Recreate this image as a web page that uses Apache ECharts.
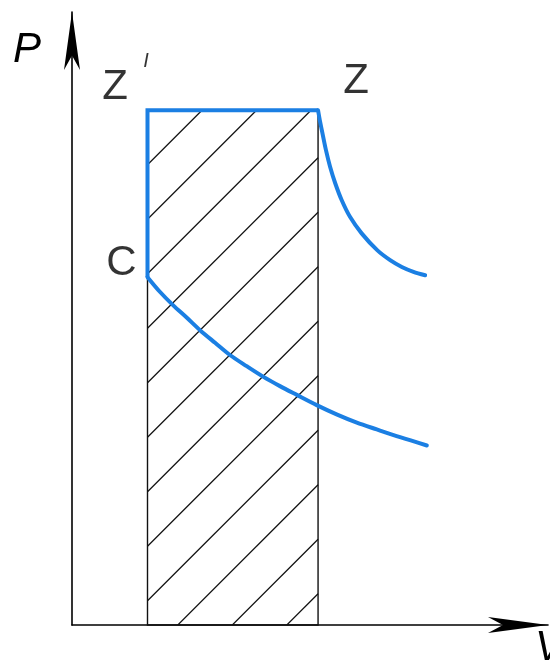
<!DOCTYPE html>
<html>
<head>
<meta charset="utf-8">
<script src="https://cdn.jsdelivr.net/npm/echarts@6/dist/echarts.min.js"></script>
<style>
  html, body { margin: 0; padding: 0; background: #ffffff; }
  #chart { width: 550px; height: 664px; }
</style>
</head>
<body>
<div id="chart"></div>
<script>
// State points of the P–V diagram
const stateNames = ["Z'", 'Z', 'C'];
const stateV = [2.2, 7.17, 2.2];
const stateP = [10.58, 10.58, 7.15];

// Expansion curve starting at Z
const upperCurveV = [7.17, 7.22, 7.30, 7.40, 7.52, 7.67, 7.86, 8.10, 8.44, 8.90, 9.27, 9.61, 9.95, 10.29];
const upperCurveP = [10.58, 10.38, 10.10, 9.76, 9.42, 9.08, 8.73, 8.39, 8.05, 7.70, 7.50, 7.36, 7.26, 7.19];

// Expansion curve starting at C
const lowerCurveV = [2.2, 2.56, 2.95, 3.34, 3.73, 4.17, 4.60, 5.09, 5.58, 6.06, 6.55, 7.13, 7.71, 8.30, 8.88, 9.56, 10.34];
const lowerCurveP = [7.15, 6.85, 6.57, 6.32, 6.06, 5.80, 5.55, 5.32, 5.10, 4.91, 4.73, 4.52, 4.33, 4.16, 4.02, 3.86, 3.69];

// Axis titles
const axisNames = ['V', 'P'];

const BLUE = '#1b7fe3';
const FONT = "'Liberation Sans', Arial, sans-serif";

const zip = (xs, ys) => xs.map((x, i) => [x, ys[i]]);

// Hatched work area: V from Z' to Z, P from 0 up to the level of Z
const workArea = [[stateV[0], stateV[1], 0, stateP[0]]];

// Isobar Z'–Z and the vertical C–Z'
const boundaryPath = [
  [stateV[2], stateP[2]],
  [stateV[0], stateP[0]],
  [stateV[1], stateP[1]]
];

const labelOffsets = { "Z'": [-22, -28], 'Z': [38, -29], 'C': [-26, -14] };

function renderHatch(params, api) {
  const bl = api.coord([api.value(0), api.value(2)]);
  const tr = api.coord([api.value(1), api.value(3)]);
  const x0 = bl[0], x1 = tr[0], y0 = tr[1], y1 = bl[1];
  const spacing = 54.5;
  const children = [];
  for (let c = x0 + y0 + spacing; c < x1 + y1; c += spacing) {
    const xa = Math.max(x0, c - y1);
    const xb = Math.min(x1, c - y0);
    if (xb - xa < 1) continue;
    children.push({
      type: 'line',
      shape: { x1: xa, y1: c - xa, x2: xb, y2: c - xb },
      style: { stroke: '#111', lineWidth: 1.2 }
    });
  }
  children.push({
    type: 'rect',
    shape: { x: x0, y: y0, width: x1 - x0, height: y1 - y0 },
    style: { fill: 'none', stroke: '#111', lineWidth: 1.4 }
  });
  return { type: 'group', children: children };
}

const chart = echarts.init(document.getElementById('chart'), null, { renderer: 'canvas' });

chart.setOption({
  animation: false,
  backgroundColor: '#ffffff',
  grid: { left: 72, right: 2, top: 12, bottom: 39, outerBoundsMode: 'none' },
  xAxis: {
    type: 'value',
    min: 0,
    max: 13.87,
    name: axisNames[0],
    nameLocation: 'end',
    nameGap: -13,
    nameTextStyle: {
      fontFamily: FONT, fontSize: 42, fontStyle: 'italic', color: '#000',
      lineHeight: 42, verticalAlign: 'top', align: 'left', padding: [2, 0, 0, 0]
    },
    axisLine: {
      show: true,
      symbol: ['none', 'arrow'],
      symbolSize: [12, 60],
      lineStyle: { color: '#000', width: 1.6 }
    },
    axisTick: { show: false },
    axisLabel: { show: false },
    splitLine: { show: false }
  },
  yAxis: {
    type: 'value',
    min: 0,
    max: 12.6,
    name: axisNames[1],
    nameLocation: 'end',
    nameGap: -59,
    nameTextStyle: {
      fontFamily: FONT, fontSize: 42, fontStyle: 'italic', color: '#000',
      lineHeight: 42, padding: [0, 90, 0, 0]
    },
    axisLine: {
      show: true,
      symbol: ['none', 'arrow'],
      symbolSize: [12, 58],
      lineStyle: { color: '#000', width: 1.6 }
    },
    axisTick: { show: false },
    axisLabel: { show: false },
    splitLine: { show: false }
  },
  series: [
    {
      type: 'custom',
      name: 'work',
      renderItem: renderHatch,
      encode: { x: [0, 1], y: [2, 3] },
      data: workArea,
      clip: false,
      z: 1
    },
    {
      type: 'line',
      name: 'isobar',
      data: boundaryPath,
      symbol: 'none',
      lineStyle: { color: BLUE, width: 4, cap: 'butt', join: 'miter' },
      z: 3
    },
    {
      type: 'line',
      name: 'from Z',
      data: zip(upperCurveV, upperCurveP),
      smooth: 0.3,
      symbol: 'none',
      lineStyle: { color: BLUE, width: 4, cap: 'round', join: 'round' },
      z: 3
    },
    {
      type: 'line',
      name: 'from C',
      data: zip(lowerCurveV, lowerCurveP),
      smooth: 0.3,
      symbol: 'none',
      lineStyle: { color: BLUE, width: 4, cap: 'round', join: 'round' },
      z: 3
    },
    {
      type: 'scatter',
      name: 'states',
      symbolSize: 1,
      itemStyle: { color: 'transparent' },
      z: 4,
      data: stateNames.map((n, i) => ({
        name: n,
        value: [stateV[i], stateP[i]],
        label: { offset: labelOffsets[n] }
      })),
      label: {
        show: true,
        position: 'inside',
        color: '#000',
        fontFamily: FONT,
        fontSize: 42,
        lineHeight: 42,
        formatter: (p) => p.name === "Z'" ? '{pr|I}\n{z|Z}' : p.name,
        rich: {
          z: {
            fontFamily: FONT, fontSize: 42, lineHeight: 42, color: '#000',
            align: 'left', padding: [0, 21, 0, 0]
          },
          pr: {
            fontFamily: FONT, fontSize: 20, lineHeight: 10, fontStyle: 'italic',
            color: '#000', align: 'right'
          }
        }
      }
    }
  ]
});
</script>
</body>
</html>
